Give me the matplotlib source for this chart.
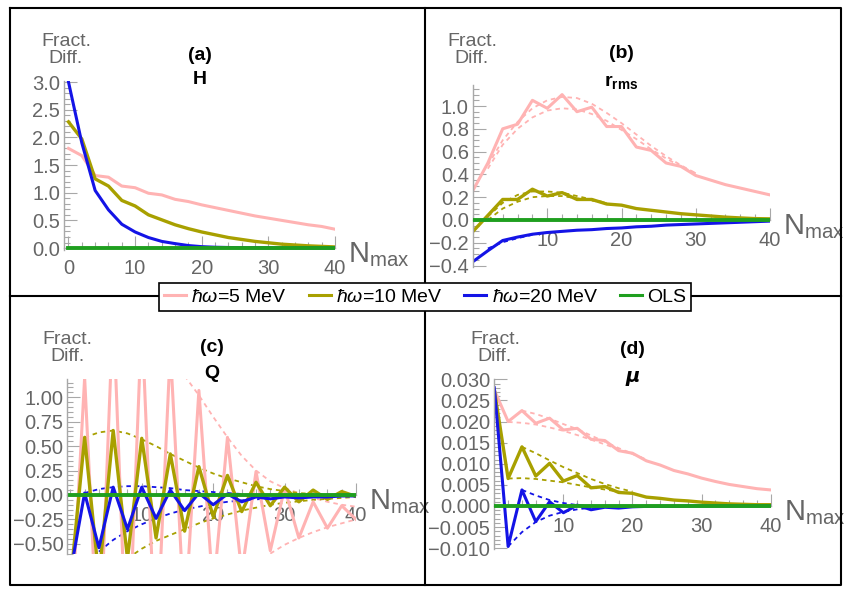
import matplotlib
matplotlib.use("Agg")
import matplotlib.pyplot as plt
from matplotlib.lines import Line2D
from matplotlib.ticker import MultipleLocator, FuncFormatter
import numpy as np

W, H = 853, 597

plt.rcParams['font.family'] = ['Liberation Sans', 'DejaVu Sans']
plt.rcParams['mathtext.fontset'] = 'custom'
plt.rcParams['mathtext.rm'] = 'Liberation Sans'
plt.rcParams['mathtext.it'] = 'Liberation Sans:italic'
plt.rcParams['mathtext.bf'] = 'Liberation Sans:bold'

PINK = '#ffb3b3'
OLIVE = '#a8a000'
BLUE = '#1414e6'
GREEN = '#1f9f1f'
AXIS_GREY = '#a8a8a8'
LABEL_GREY = '#666666'

# Nmax grid (even values)
nmax = np.arange(0, 41, 2)

# (a) H
H_5 = [1.80, 1.67, 1.31, 1.28, 1.12, 1.09, 0.99, 0.96, 0.88, 0.84, 0.78,
       0.73, 0.68, 0.63, 0.58, 0.54, 0.50, 0.46, 0.42, 0.39, 0.34]
H_10 = [2.28, 1.97, 1.25, 1.12, 0.86, 0.76, 0.60, 0.51, 0.42, 0.35, 0.29,
        0.24, 0.19, 0.155, 0.12, 0.095, 0.07, 0.055, 0.04, 0.03, 0.02]
H_20 = [3.00, 1.90, 1.04, 0.69, 0.43, 0.29, 0.19, 0.12, 0.08, 0.045, 0.025,
        0.015, 0.01, 0.006, 0.004, 0.003, 0.002, 0.001, 0.001, 0.0, 0.0]

# (b) r_rms
r_5 = [0.26, 0.50, 0.80, 0.84, 1.05, 0.98, 1.10, 0.95, 0.99, 0.82, 0.82,
       0.64, 0.61, 0.50, 0.47, 0.39, 0.35, 0.31, 0.28, 0.25, 0.22]
r_10 = [-0.10, 0.04, 0.18, 0.18, 0.27, 0.21, 0.24, 0.18, 0.18, 0.14, 0.13,
        0.10, 0.085, 0.07, 0.055, 0.045, 0.035, 0.025, 0.018, 0.012, 0.01]
r_20 = [-0.365, -0.27, -0.18, -0.15, -0.125, -0.11, -0.10, -0.09, -0.085,
        -0.075, -0.07, -0.06, -0.055, -0.045, -0.04, -0.035, -0.03, -0.025,
        -0.02, -0.015, -0.01]
r5_up_n = [2, 4, 6, 8, 10, 12, 14, 16, 18, 20, 22, 24, 26, 28, 30]
r5_up = [0.48, 0.70, 0.86, 0.98, 1.05, 1.08, 1.07, 1.02, 0.94, 0.85, 0.75,
         0.65, 0.56, 0.48, 0.41]
r5_lo_n = [2, 4, 6, 8, 10, 12, 14, 16, 18, 20, 22, 24, 26, 28, 30]
r5_lo = [0.45, 0.66, 0.80, 0.90, 0.96, 0.98, 0.97, 0.93, 0.87, 0.79, 0.71,
         0.62, 0.54, 0.47, 0.41]
r10_up_n = [2, 4, 6, 8, 10, 12, 14, 16, 18]
r10_up = [0.03, 0.15, 0.22, 0.25, 0.25, 0.24, 0.21, 0.18, 0.15]
r10_lo_n = [2, 4, 6, 8, 10, 12, 14, 16, 18]
r10_lo = [0.00, 0.10, 0.16, 0.20, 0.21, 0.21, 0.19, 0.17, 0.15]
r20_env_n = [2, 4, 6, 8]
r20_env = [-0.25, -0.195, -0.16, -0.13]

# (c) Q
Q_5 = [-1.5, 1.20, -1.8, 1.9, -1.9, 1.8, -1.7, 1.5, -1.3, 1.07, -1.0,
       0.59, -0.8, 0.24, -0.57, 0.07, -0.44, -0.07, -0.34, -0.11, -0.25]
Q_10 = [-0.9, 0.59, -0.85, 0.66, -0.65, 0.58, -0.44, 0.42, -0.37, 0.29,
        -0.22, 0.20, -0.17, 0.13, -0.11, 0.08, -0.07, 0.05, -0.045, 0.035,
        -0.015]
Q_20 = [-0.8, 0.02, -0.54, 0.08, -0.35, 0.08, -0.24, 0.05, -0.16, 0.02,
        -0.10, 0.01, -0.07, -0.02, -0.04, -0.02, -0.03, -0.02, -0.02, -0.01,
        -0.01]
Q5_up_n = [16, 18, 20, 22, 24, 26, 28, 30, 32, 34, 36, 38, 40]
Q5_up = [1.22, 1.02, 0.80, 0.59, 0.40, 0.25, 0.14, 0.07, 0.02, -0.03,
         -0.07, -0.10, -0.12]
Q5_lo_n = [28, 30, 32, 34, 36, 38, 40]
Q5_lo = [-0.60, -0.51, -0.44, -0.38, -0.33, -0.29, -0.25]
Q10_up_n = [2, 4, 6, 8, 10, 12, 14, 16, 18, 20, 22, 24, 26, 28, 30, 32, 34,
            36, 38, 40]
Q10_up = [0.59, 0.64, 0.66, 0.63, 0.57, 0.50, 0.42, 0.35, 0.28, 0.22, 0.17,
          0.13, 0.09, 0.06, 0.04, 0.02, 0.01, 0.0, -0.01, -0.01]
Q10_lo_n = [8, 10, 12, 14, 16, 18, 20, 22, 24, 26, 28, 30, 32, 34, 36, 38, 40]
Q10_lo = [-0.65, -0.55, -0.47, -0.41, -0.35, -0.29, -0.24, -0.20, -0.16,
          -0.13, -0.10, -0.08, -0.065, -0.05, -0.04, -0.03, -0.02]
Q20_up_n = [2, 4, 6, 8, 10, 12, 14, 16, 18, 20, 22, 24]
Q20_up = [0.02, 0.06, 0.08, 0.09, 0.09, 0.08, 0.07, 0.05, 0.04, 0.03, 0.02,
          0.01]
Q20_lo_n = [4, 6, 8, 10, 12, 14, 16, 18, 20, 22, 24, 26, 28]
Q20_lo = [-0.58, -0.46, -0.37, -0.30, -0.24, -0.19, -0.15, -0.12, -0.09,
          -0.07, -0.055, -0.045, -0.035]

# (d) mu
mu_5 = [0.0275, 0.0200, 0.0226, 0.0196, 0.0208, 0.0180, 0.0184, 0.0158,
        0.0155, 0.0131, 0.0125, 0.0107, 0.0097, 0.0084, 0.0076, 0.0066,
        0.0058, 0.0051, 0.0046, 0.0041, 0.0038]
mu_10 = [0.0275, 0.0065, 0.0140, 0.0071, 0.0101, 0.0059, 0.0072, 0.0043,
         0.0046, 0.0032, 0.0030, 0.0021, 0.0018, 0.0014, 0.0012, 0.0009,
         0.0007, 0.0005, 0.0004, 0.0003, 0.0003]
mu_20 = [0.0280, -0.0096, 0.0038, -0.0037, 0.0010, -0.0016, 0.0002, -0.0009,
         -0.0003, -0.0005, -0.0002, -0.0001, -0.0001, -0.0001, 0.0, 0.0, 0.0,
         0.0, 0.0, 0.0, 0.0]
mu5_up_n = [4, 6, 8, 10, 12, 14, 16, 18, 20, 22]
mu5_up = [0.0226, 0.0218, 0.0207, 0.0194, 0.0182, 0.0167, 0.0152, 0.0137,
          0.0124, 0.0110]
mu5_lo_n = [2, 4, 6, 8, 10, 12, 14, 16, 18, 20, 22]
mu5_lo = [0.0199, 0.0197, 0.0193, 0.0186, 0.0178, 0.0168, 0.0157, 0.0146,
          0.0134, 0.0123, 0.0110]
mu10_up_n = [4, 6, 8, 10, 12, 14, 16, 18, 20]
mu10_up = [0.0140, 0.0125, 0.0108, 0.0092, 0.0078, 0.0064, 0.0052, 0.0042,
           0.0034]
mu10_lo_n = [2, 4, 6, 8, 10, 12, 14, 16, 18, 20]
mu10_lo = [0.0065, 0.0066, 0.0064, 0.0060, 0.0056, 0.0050, 0.0044, 0.0039,
           0.0034, 0.0030]
mu20_up_n = [4, 6, 8, 10, 12, 14]
mu20_up = [0.0038, 0.0025, 0.0014, 0.0007, 0.0002, 0.0]
mu20_lo_n = [2, 4, 6, 8, 10, 12, 14]
mu20_lo = [-0.0096, -0.0062, -0.0038, -0.0023, -0.0014, -0.0008, -0.0004]

ols_n = [0, 40]
ols = [0.0, 0.0]

labels = [r'$ħω$=5 MeV', r'$ħω$=10 MeV', r'$ħω$=20 MeV', 'OLS']


def px_rect(l, t, r, b):
    return [l / W, 1 - b / H, (r - l) / W, (b - t) / H]


def fig_xy(x, y):
    return x / W, 1 - y / H


def minus_fmt(fmt):
    return FuncFormatter(lambda v, p: (fmt % v).replace('-', '\u2212'))


fig = plt.figure(figsize=(W / 100, H / 100), dpi=100)

panels = [
    dict(rect=px_rect(64.5, 80.9, 335, 249.7), xlim=(-0.6, 40), ylim=(-0.03, 3.02),
         ymaj=0.5, ymin=0.1, yfmt='%.1f', xticks=[0, 10, 20, 30, 40],
         solid=[H_5, H_10, H_20], env=[],
         tag='(a)', tag_y=55, name='H', name_y=80, fd=(66, 50)),
    dict(rect=px_rect(473, 85.5, 770, 266.7), xlim=(0, 40), ylim=(-0.41, 1.18),
         ymaj=0.2, ymin=0.05, yfmt='%.1f', xticks=[10, 20, 30, 40],
         solid=[r_5, r_10, r_20],
         env=[(r5_up_n, r5_up, PINK), (r5_lo_n, r5_lo, PINK),
              (r10_up_n, r10_up, OLIVE), (r10_lo_n, r10_lo, OLIVE),
              (r20_env_n, r20_env, BLUE)],
         tag='(b)', tag_y=53, name=r'$\mathbf{r_{rms}}$', name_y=82, fd=(472, 50)),
    dict(rect=px_rect(67.5, 378.7, 356, 553.6), xlim=(-0.4, 40), ylim=(-0.6, 1.19),
         ymaj=0.25, ymin=0.05, yfmt='%.2f', xticks=[10, 20, 30, 40],
         solid=[Q_5, Q_10, Q_20],
         env=[(Q5_up_n, Q5_up, PINK), (Q5_lo_n, Q5_lo, PINK),
              (Q10_up_n, Q10_up, OLIVE), (Q10_lo_n, Q10_lo, OLIVE),
              (Q20_up_n, Q20_up, BLUE), (Q20_lo_n, Q20_lo, BLUE)],
         tag='(c)', tag_y=348, name='Q', name_y=373, fd=(67, 348)),
    dict(rect=px_rect(494.3, 378.5, 770.7, 548.6), xlim=(0, 40), ylim=(-0.0101, 0.0302),
         ymaj=0.005, ymin=0.001, yfmt='%.3f', xticks=[10, 20, 30, 40],
         solid=[mu_5, mu_10, mu_20],
         env=[(mu5_up_n, mu5_up, PINK), (mu5_lo_n, mu5_lo, PINK),
              (mu10_up_n, mu10_up, OLIVE), (mu10_lo_n, mu10_lo, OLIVE),
              (mu20_up_n, mu20_up, BLUE), (mu20_lo_n, mu20_lo, BLUE)],
         tag='(d)', tag_y=350, name='μ', name_y=377, fd=(495, 348)),
]

for p in panels:
    ax = fig.add_axes(p['rect'])
    ax.set_axisbelow(True)
    for xs, ys, c in p['env']:
        ax.plot(xs, ys, color=c, lw=1.3, ls=(0, (2.5, 2.2)), zorder=1.5)
    for ys, c, lw in zip(p['solid'], [PINK, OLIVE, BLUE], [2.2, 2.4, 2.2]):
        ax.plot(nmax, ys, color=c, lw=lw, zorder=2)
    ax.plot(ols_n, ols, color=GREEN, lw=2.8, zorder=3)

    ax.set_xlim(*p['xlim'])
    ax.set_ylim(*p['ylim'])
    ax.set_xticks(p['xticks'])
    ax.xaxis.set_minor_locator(MultipleLocator(2))
    ax.yaxis.set_major_locator(MultipleLocator(p['ymaj']))
    ax.yaxis.set_minor_locator(MultipleLocator(p['ymin']))
    ax.yaxis.set_major_formatter(minus_fmt(p['yfmt']))

    for s in ['top', 'right']:
        ax.spines[s].set_visible(False)
    ax.spines['bottom'].set_position(('data', 0))
    for s in ['left', 'bottom']:
        ax.spines[s].set_color(AXIS_GREY)
        ax.spines[s].set_linewidth(1.0)
    ax.patch.set_alpha(0)
    ax.tick_params(which='both', direction='in', color=AXIS_GREY,
                   labelcolor=LABEL_GREY, labelsize=14.5, width=0.8)
    ax.tick_params(which='major', length=9)
    ax.tick_params(which='minor', length=4.5)
    ax.tick_params(axis='x', pad=8)
    ax.tick_params(axis='y', pad=3)

    ax.annotate(r'$\mathregular{N_{max}}$', xy=(40, 0), xycoords='data',
                xytext=(9.5, -10), textcoords='offset points', ha='left',
                va='baseline', fontsize=21, color=LABEL_GREY,
                annotation_clip=False)

    cx = (p['rect'][0] + p['rect'][2] / 2) * W
    fig.text(*fig_xy(cx, p['tag_y']), p['tag'], ha='center', va='center',
             fontsize=14, fontweight='bold')
    if p['name'] == 'μ':
        fig.text(*fig_xy(cx, p['name_y']), p['name'], ha='center', va='center',
                 fontsize=14, fontweight='bold', fontstyle='italic',
                 family='DejaVu Sans')
    else:
        fig.text(*fig_xy(cx, p['name_y']), p['name'], ha='center', va='center',
                 fontsize=14, fontweight='bold')
    fig.text(*fig_xy(*p['fd']), 'Fract.\nDiff.', ha='center', va='center',
             fontsize=14, color=LABEL_GREY, linespacing=1.0)

# panel frame
fx = [10, 841, 841, 10, 10]
fy = [8, 8, 585, 585, 8]
fig.add_artist(Line2D([x / W for x in fx], [1 - y / H for y in fy],
                      transform=fig.transFigure, color='black', lw=1.5))
fig.add_artist(Line2D([425 / W, 425 / W], [1 - 8 / H, 1 - 585 / H],
                      transform=fig.transFigure, color='black', lw=1.5))
fig.add_artist(Line2D([10 / W, 841 / W], [1 - 296 / H, 1 - 296 / H],
                      transform=fig.transFigure, color='black', lw=1.5))

handles = [Line2D([], [], color=c, lw=2.2) for c in [PINK, OLIVE, BLUE, GREEN]]
leg = fig.legend(handles, labels, loc='center',
                 bbox_to_anchor=fig_xy(425, 297), ncol=4, frameon=True,
                 fancybox=False, edgecolor='black', framealpha=1, fontsize=14,
                 handlelength=1.15, handletextpad=0.27, columnspacing=1.1,
                 borderpad=0.25, borderaxespad=0)
leg.get_frame().set_linewidth(1.2)

fig.savefig('out.png', dpi=100)
